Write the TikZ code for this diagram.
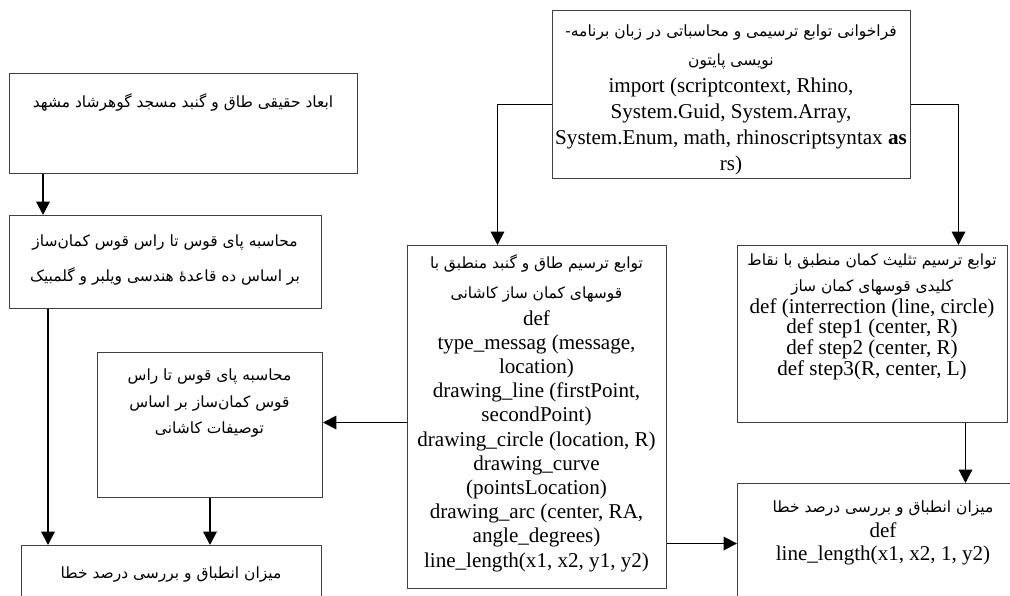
\documentclass[tikz,border=0pt]{standalone}
\usepackage{fontspec}
\setmainfont{Liberation Serif}
\newfontfamily\farsi[Script=Arabic]{DejaVu Sans}
\TeXXeTstate=1
\usetikzlibrary{arrows.meta,positioning}
\newcommand{\px}{0.025cm}
\newcommand{\rtl}[1]{\beginR #1\endR}
\tikzstyle{box} = [
    rectangle,
    draw=black!75,
    line width=0.7pt,
    inner sep=0pt,
    anchor=north west
]
\tikzstyle{arrow} = [
    line width=1.4pt,
    -{Triangle[length=9.5pt,width=9.5pt]}
]
\tikzset{
    fa/.style={align=center, inner sep=0pt, font=\farsi\fontsize{11}{#1}\selectfont},
    code/.style={align=center, inner sep=0pt, font=\fontsize{15}{#1}\selectfont}
}

\begin{document}
\begin{tikzpicture}[x=\px, y=-\px]
    \useasboundingbox (0,0) rectangle (1010,595);

    % Boxes
    \node[box, minimum width=358*\px, minimum height=168*\px] (python) at (552,10) {};
    \node[box, minimum width=348*\px, minimum height=100*\px] (gohar) at (9,73) {};
    \node[box, minimum width=312*\px, minimum height=93*\px] (wilber) at (9,215) {};
    \node[box, minimum width=225*\px, minimum height=145*\px] (kashani) at (97,352) {};
    \node[box, minimum width=300*\px, minimum height=70*\px] (khata) at (21,545) {};
    \node[box, minimum width=259*\px, minimum height=343*\px] (tavabe) at (407,245) {};
    \node[box, minimum width=270*\px, minimum height=177*\px] (talis) at (737,245) {};
    \node[box, minimum width=292*\px, minimum height=130*\px] (taghir) at (737,483) {};

    % Texts
    \node[fa=21.3] (pythonFa) at (731,47) {\rtl{فراخوانی توابع ترسیمی و محاسباتی در زبان برنامه-}\\\rtl{نویسی پایتون}};
    \node[code=18.5] (pythonCode) at (731,126) {import (scriptcontext, Rhino,\\System.Guid, System.Array,\\System.Enum, math, rhinoscriptsyntax \textbf{as}\\rs)};
    \node[fa=21.3] (goharFa) at (183,102) {\rtl{ابعاد حقیقی طاق و گنبد مسجد گوهرشاد مشهد}};
    \node[fa=24.9] (wilberFa) at (165,260) {\rtl{محاسبه پای قوس تا راس قوس کمان‌ساز}\\\rtl{بر اساس ده قاعدهٔ هندسی ویلبر و گلمبیک}};
    \node[fa=18.8] (kashaniFa) at (209.5,403) {\rtl{محاسبه پای قوس تا راس}\\\rtl{قوس کمان‌ساز بر اساس}\\\rtl{توصیفات کاشانی}};
    \node[fa=21.3] (khataFa) at (171,574) {\rtl{میزان انطباق و بررسی درصد خطا}};
    \node[fa=21.3] (tavabeFa) at (536.5,278) {\rtl{توابع ترسیم طاق و گنبد منطبق با}\\\rtl{قوسهای کمان ساز کاشانی}};
    \node[code=17.2] (tavabeCode) at (536.5,441) {def\\type\_messag (message,\\location)\\drawing\_line (firstPoint,\\secondPoint)\\drawing\_circle (location, R)\\drawing\_curve\\(pointsLocation)\\drawing\_arc (center, RA,\\angle\_degrees)\\line\_length(x1, x2, y1, y2)};
    \node[fa=17.8] (talisFa) at (872,274.5) {\rtl{توابع ترسیم تثلیث کمان منطبق با نقاط}\\\rtl{کلیدی قوسهای کمان ساز}};
    \node[code=13.7] (talisCode) at (872,339) {def (interrection (line, circle)\\def step1 (center, R)\\def step2 (center, R)\\def step3(R, center, L)};
    \node[fa=21.3] (taghirFa) at (883,508) {\rtl{میزان انطباق و بررسی درصد خطا}};
    \node[code=16.4] (taghirCode) at (883,543.5) {def\\line\_length(x1, x2, 1, y2)};

    % Connectors
    \coordinate (wilberOut) at ([xshift=39*\px]wilber.south west);
    \coordinate (tavabeOut) at ([yshift=-5.5*\px]tavabe.west);
    \coordinate (taghirIn) at ([yshift=5*\px]taghir.west);
    \coordinate (talisOut) at ([xshift=93*\px]talis.south);
    \draw[arrow] ([xshift=34*\px]gohar.south west) -- ([xshift=34*\px]wilber.north west);
    \draw[arrow] (wilberOut) -- (wilberOut |- khata.north);
    \draw[arrow] (kashani.south) -- (kashani.south |- khata.north);
    \draw[arrow] (tavabeOut) -- (tavabeOut -| kashani.east);
    \draw[arrow] (taghirIn -| tavabe.east) -- (taghirIn);
    \draw[arrow] ([yshift=-10*\px]python.west) -| ([xshift=-39.5*\px]tavabe.north);
    \draw[arrow] ([yshift=-10*\px]python.east) -| ([xshift=86*\px]talis.north);
    \draw[arrow] (talisOut) -- (talisOut |- taghir.north);
\end{tikzpicture}
\end{document}
